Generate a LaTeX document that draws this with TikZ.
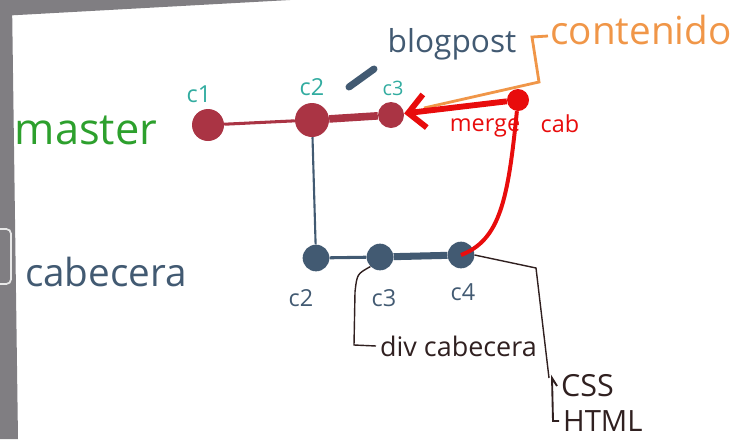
\documentclass[tikz,border=0pt]{standalone}
\usepackage{fontspec}
\setmainfont{Open Sans}
\usetikzlibrary{arrows.meta}
\definecolor{mastergreen}{RGB}{45,160,45}
\definecolor{commitred}{RGB}{170,52,68}
\definecolor{mergered}{RGB}{232,12,12}
\definecolor{branchslate}{RGB}{66,90,114}
\definecolor{labelteal}{RGB}{50,172,160}
\definecolor{tagorange}{RGB}{240,150,72}
\definecolor{framegray}{RGB}{128,126,130}
\definecolor{inkbrown}{RGB}{48,32,32}
\tikzset{
  commit/.style={circle, fill=commitred, inner sep=0pt, minimum size=0.96cm},
  cabcommit/.style={circle, fill=branchslate, inner sep=0pt, minimum size=0.8cm},
  mergedot/.style={circle, fill=mergered, inner sep=0pt, minimum size=0.66cm},
  branch/.style={font=\fontsize{33}{33}\selectfont},
  idlabel/.style={text=labelteal, font=\fontsize{20}{20}\selectfont},
  cablabel/.style={text=branchslate, font=\fontsize{20}{20}\selectfont},
  note/.style={text=inkbrown, font=\fontsize{23}{23}\selectfont, anchor=west},
  thinlink/.style={line width=1.2pt, draw=inkbrown}
}

\begin{document}
\begin{tikzpicture}[x=0.03cm, y=-0.03cm]
  \useasboundingbox (0,0) rectangle (735,439);
  % screen frame
  \fill[framegray] (0,0) -- (290,0) -- (0,16) -- cycle;
  \fill[framegray] (0,0) -- (12,0) -- (18,439) -- (0,439) -- cycle;
  \draw[white!82!gray, line width=1.5pt, rounded corners=4pt] (-8,229) rectangle (11,284);

  % master branch
  \node[branch, text=mastergreen, font=\fontsize{37}{37}\selectfont] (master) at (86,130) {master};
  \node[commit] (c1) at (208,125) {};
  \node[commit, minimum size=1.02cm] (c2) at (312,120) {};
  \node[commit, minimum size=0.78cm] (c3) at (391,115) {};
  \node[mergedot] (merge) at (518,100) {};
  \node[idlabel] (c1l) at (199,94) {c1};
  \node[idlabel] (c2l) at (312,87) {c2};
  \node[idlabel, font=\fontsize{17}{17}\selectfont] (c3l) at (393,88) {c3};

  \draw[line width=2.6pt, draw=commitred] (c1) -- (c2);
  \draw[line width=6.5pt, draw=commitred] (c2) -- (c3);

  % tags
  \node[text=branchslate, font=\fontsize{27}{27}\selectfont] (blog) at (452,44) {blogpost};
  \coordinate (blogA) at (349,87);
  \coordinate (blogB) at (374,69);
  \draw[line width=6pt, line cap=round, draw=branchslate] (blogA) -- (blogB);
  \node[text=tagorange, font=\fontsize{33}{33}\selectfont] (contenido) at (641,30) {contenido};
  \coordinate (tagend) at (424,108);
  \draw[line width=2.4pt, draw=tagorange] (548,36) -- (532,37) -- (539,82) -- (tagend);

  % merge of cabecera into master
  \draw[line width=5pt, draw=mergered, -{Straight Barb[length=5mm, width=10mm]}] (merge) -- (c3);
  \node[text=mergered, font=\fontsize{20}{20}\selectfont] (mergel) at (485,128) {merge};
  \node[text=mergered, font=\fontsize{20}{20}\selectfont] (cabl) at (560,124) {cab};

  % cabecera branch
  \node[branch, text=branchslate] (cabecera) at (106,272) {cabecera};
  \node[cabcommit] (k2) at (316,258) {};
  \node[cabcommit] (k3) at (380,257) {};
  \node[cabcommit] (k4) at (461,255) {};
  \node[cablabel] (k2l) at (301,298) {c2};
  \node[cablabel] (k3l) at (384,298) {c3};
  \node[cablabel] (k4l) at (463,292) {c4};

  \draw[line width=1.8pt, draw=branchslate] (c2) -- (k2);
  \draw[line width=2.6pt, draw=branchslate] (k2) -- (k3);
  \draw[line width=6pt, draw=branchslate] (k3) -- (k4);
  \draw[line width=3.4pt, draw=mergered] (merge) .. controls (508,200) and (500,240) .. (k4.center);

  % notes
  \node[note] (divl) at (376,346) {div cabecera};
  \draw[thinlink] (k3.south west) .. controls (357,274) .. (355,292) -- (354,345) -- (divl.west);
  \node[note, font=\fontsize{26}{26}\selectfont] (css) at (557,386) {CSS};
  \node[note, font=\fontsize{25}{25}\selectfont] (html) at (559,421) {HTML};
  \coordinate (bend) at (536,268);
  \draw[thinlink] (k4.east) -- (bend) -- (549,378);
  \draw[line width=1.6pt, draw=inkbrown] (css.west) -- (552,378) -- (553,421) -- (html.west);
\end{tikzpicture}
\end{document}
